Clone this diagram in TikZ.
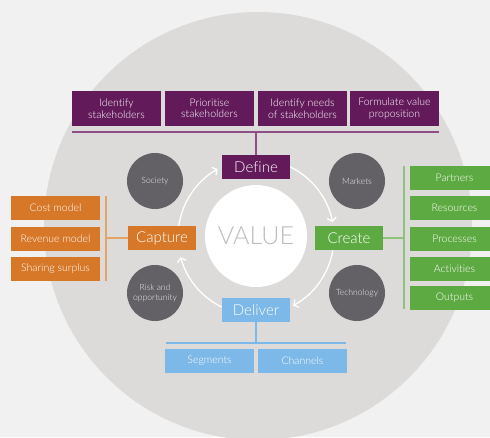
\documentclass[tikz,border=0pt]{standalone}
\usepackage{fontspec}
\setmainfont{Lato}[UprightFont=* Light, Ligatures=NoCommon]
\usetikzlibrary{arrows.meta}
\definecolor{bg}{HTML}{F1F1F1}
\definecolor{ring}{HTML}{DCDBD9}
\definecolor{purp}{HTML}{621A5A}
\definecolor{purpl}{HTML}{8E4F86}
\definecolor{orng}{HTML}{D67828}
\definecolor{orngl}{HTML}{E3A468}
\definecolor{grn}{HTML}{5EAA42}
\definecolor{grnl}{HTML}{8DC47A}
\definecolor{blu}{HTML}{7DB9E8}
\definecolor{dk}{HTML}{636166}
\definecolor{valtxt}{HTML}{BDBDBD}
\tikzset{
  box/.style={inner sep=0pt, minimum width=89pt, minimum height=24pt, text=white,
    font=\fontsize{10.5}{11.5}\selectfont, align=center},
  stage/.style={inner sep=0pt, minimum width=68pt, minimum height=24pt, text=white,
    font=\fontsize{15}{16}\selectfont},
  topic/.style={circle, fill=dk, minimum size=56pt, inner sep=0pt, text=white!88!dk,
    font=\fontsize{8.6}{9.6}\selectfont, align=center},
  cyc/.style={white, line width=1.3pt, -{Straight Barb[length=3.5pt,width=9pt]}},
  link/.style={line width=2pt},
}
\begin{document}
\begin{tikzpicture}[x=1pt,y=-1pt]
\useasboundingbox (0,0) rectangle (490,437);
\clip (0,0) rectangle (490,437);
\fill[bg] (0,0) rectangle (490,437);
\fill[ring] (258,226) circle[radius=214];

% value centre
\node[circle, fill=white, minimum size=102pt, inner sep=0pt, text=valtxt,
  font=\fontsize{25}{27}\selectfont] (value) at (256,236) {VALUE};

% cycle arcs
\draw[cyc] ([shift={(256,237)}]-64:78) arc[start angle=-64, end angle=-11, radius=78];
\draw[cyc] ([shift={(256,237)}]10:78) arc[start angle=10, end angle=61.5, radius=78];
\draw[cyc] ([shift={(256,237)}]116:78) arc[start angle=116, end angle=165, radius=78];
\draw[cyc] ([shift={(256,237)}]188:78) arc[start angle=188, end angle=240.5, radius=78];

% stages
\node[stage, fill=purp] (define) at (256,167) {Define};
\node[stage, fill=orng] (capture) at (162,238) {Capture};
\node[stage, fill=grn] (create) at (349,238) {Create};
\node[stage, fill=blu] (deliver) at (256,310) {Deliver};

% topic circles
\node[topic] (society) at (155,181) {Society};
\node[topic] (markets) at (357,181) {Markets};
\node[topic] (risk) at (155,293) {Risk and\\opportunity};
\node[topic] (tech) at (357,293) {Technology};

% Define boxes
\node[box, fill=purp, minimum height=35pt] (d1) at (116.5,108.5) {Identify\\stakeholders};
\node[box, fill=purp, minimum height=35pt] (d2) at (209.5,108.5) {Prioritise\\stakeholders};
\node[box, fill=purp, minimum height=35pt] (d3) at (302.5,108.5) {Identify needs\\of stakeholders};
\node[box, fill=purp, minimum height=35pt] (d4) at (394.5,108.5) {Formulate value\\proposition};
\coordinate (dl) at (72,132);
\coordinate (dr) at (439,132);
\coordinate (dm) at (256,132);
\draw[link, purpl] (dl) -- (dr);
\draw[link, purpl] (define.north) -- (dm);

% Capture boxes
\node[box, fill=orng] (c1) at (55.5,208) {Cost model};
\node[box, fill=orng] (c2) at (55.5,239) {Revenue model};
\node[box, fill=orng] (c3) at (55.5,269) {Sharing surplus};
\coordinate (ct) at (106,196);
\coordinate (cb) at (106,281);
\coordinate (cm) at (106,238);
\draw[link, orngl] (ct) -- (cb);
\draw[link, orngl] (capture.west) -- (cm);

% Create boxes
\node[box, fill=grn] (g1) at (454.5,178) {Partners};
\node[box, fill=grn] (g2) at (454.5,208) {Resources};
\node[box, fill=grn] (g3) at (454.5,238.5) {Processes};
\node[box, fill=grn] (g4) at (454.5,268.5) {Activities};
\node[box, fill=grn] (g5) at (454.5,297.5) {Outputs};
\coordinate (gt) at (404,166);
\coordinate (gb) at (404,309);
\coordinate (gm) at (404,238);
\draw[link, grnl] (gt) -- (gb);
\draw[link, grnl] (create.east) -- (gm);

% Deliver boxes
\node[box, fill=blu] (b1) at (209.5,361) {Segments};
\node[box, fill=blu] (b2) at (302.5,361) {Channels};
\coordinate (bl) at (166,343);
\coordinate (br) at (346,343);
\coordinate (bm) at (256,343);
\draw[link, blu] (bl) -- (br);
\draw[link, blu] (deliver.south) -- (bm);
\end{tikzpicture}
\end{document}
